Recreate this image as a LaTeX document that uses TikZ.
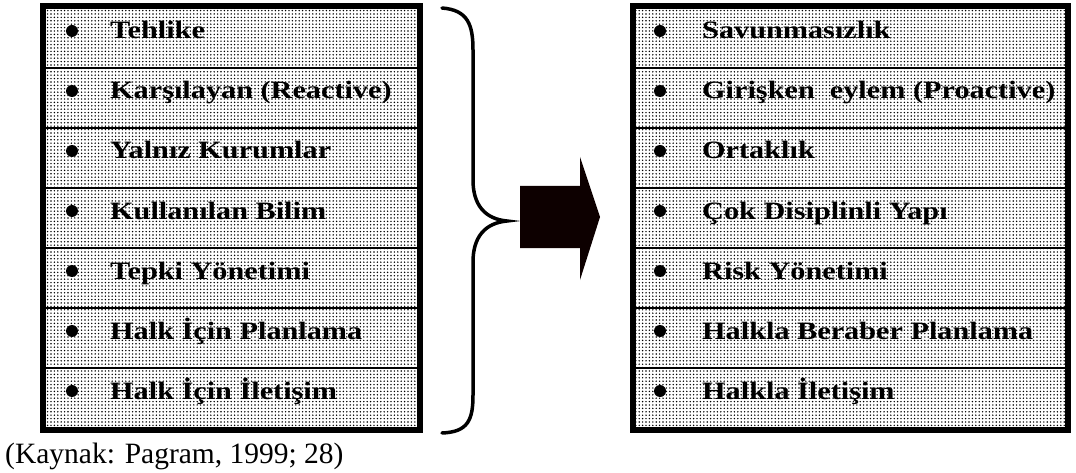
\documentclass[tikz,border=0pt]{standalone}
\usepackage{fontspec}
\setmainfont{Liberation Serif}
\newfontfamily\itemfont{Liberation Serif}[FakeStretch=1.21]
\usetikzlibrary{patterns.meta}
\begin{document}
\begin{tikzpicture}[x=1pt,y=-1pt,
  cellfill/.style={pattern={Dots[distance=3.4pt,radius=0.8pt]},pattern color=black},
  outerbox/.style={draw=black,line width=5.5pt},
  sepline/.style={draw=black,line width=2pt},
  itemtext/.style={anchor=base west,inner sep=0pt,font=\itemfont\fontsize{25}{28}\selectfont\bfseries},
  bulletdot/.style={circle,fill=black,inner sep=0pt,minimum size=12pt},
  bracestyle/.style={draw=black,line width=3.5pt,line cap=round},
  arrowshape/.style={fill=black!95!red,draw=none}]
\useasboundingbox (0,0) rectangle (1076,473);
% left box
\fill[cellfill] (43,6) rectangle (420,430);
\foreach \yy in {68,128,188,248,308,368}{\draw[sepline] (43,\yy) -- (420,\yy);}
\draw[outerbox] (43,6) rectangle (420,430);
% right box
\fill[cellfill] (633,6) rectangle (1068,430);
\foreach \yy in {68,128,188,248,308,368}{\draw[sepline] (633,\yy) -- (1068,\yy);}
\draw[outerbox] (633,6) rectangle (1068,430);
% left items
\foreach \t [count=\i] in {Tehlike,Karşılayan (Reactive),Yalnız Kurumlar,Kullanılan Bilim,Tepki Yönetimi,Halk İçin Planlama,Halk İçin İletişim}{
  \pgfmathsetmacro{\yb}{8+60*(\i-1)+31}
  \node[bulletdot] (lb\i) at (72,\yb-8) {};
  \node[itemtext] (lt\i) at (110,\yb) {\t};
}
% right items
\foreach \t [count=\i] in {Savunmasızlık,Girişken\ \ eylem (Proactive),Ortaklık,Çok Disiplinli Yapı,Risk Yönetimi,Halkla Beraber Planlama,Halkla İletişim}{
  \pgfmathsetmacro{\yb}{8+60*(\i-1)+31}
  \node[bulletdot] (rb\i) at (660,\yb-8) {};
  \node[itemtext] (rt\i) at (702,\yb) {\t};
}
% brace
\coordinate (bt) at (442,8);
\coordinate (bm) at (507,221);
\coordinate (bb) at (442,433);
\draw[bracestyle] (bt) .. controls (468,10) and (473,25) .. (473,50)
  -- (473,180) .. controls (473,205) and (485,219) .. (bm)
  .. controls (485,223) and (473,237) .. (473,262)
  -- (473,395) .. controls (473,420) and (468,432) .. (bb);
% arrow
\fill[arrowshape] (520,186) -- (580,186) -- (580,157) -- (600,217) -- (580,280) -- (580,248) -- (520,248) -- cycle;
% caption
\node[anchor=base west,inner sep=0pt,font=\fontsize{29.5}{32}\selectfont] (cap) at (5,463) {(Kaynak: Pagram, 1999; 28)};
\end{tikzpicture}
\end{document}
